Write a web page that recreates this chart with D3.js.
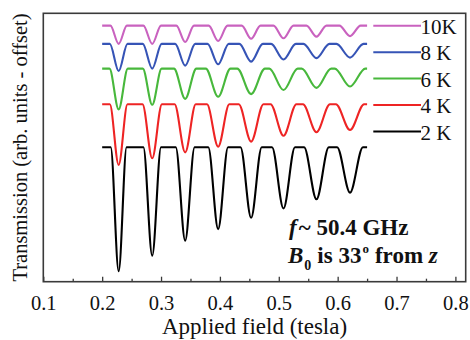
<!DOCTYPE html>
<html>
<head>
<meta charset="utf-8">
<script src="https://cdn.jsdelivr.net/npm/d3@7"></script>
<style>
  html, body { margin: 0; padding: 0; background: #fff; }
  svg { display: block; font-family: "Liberation Serif", "Times New Roman", serif; }
</style>
</head>
<body>
<svg id="chart" width="470" height="340"></svg>
<script>
// Resonance fields (tesla) of the absorption dips, shared by all temperatures
const dipFields = [0.228, 0.285, 0.341, 0.397, 0.453, 0.508, 0.564, 0.621];
// Sweep range of the field
const fieldStart = 0.2, fieldEnd = 0.65;

// Temperature labels, top to bottom
const temps = ["10K", "8 K", "6 K", "4 K", "2 K"];
const colors = ["#c962bf", "#3654b6", "#48b83c", "#ee2424", "#000000"];
// Off-resonance transmission level of each trace (offset units)
const baselines = [9.54, 8.86, 7.94, 6.61, 5.01];

// Transmission at the bottom of each dip
const minima10K = [8.86, 8.86, 8.93, 8.97, 9.05, 9.07, 9.13, 9.15];
const minima8K  = [7.85, 7.94, 8.05, 8.10, 8.20, 8.28, 8.33, 8.35];
const minima6K  = [6.42, 6.59, 6.81, 6.89, 6.99, 7.14, 7.22, 7.27];
const minima4K  = [4.35, 4.60, 4.82, 5.03, 5.22, 5.44, 5.57, 5.65];
const minima2K  = [0.39, 0.97, 1.53, 1.96, 2.38, 2.73, 3.07, 3.32];
const minima = [minima10K, minima8K, minima6K, minima4K, minima2K];

// Half-width of each dip (tesla)
const halfWidth10K = [0.014, 0.015, 0.015, 0.016, 0.016, 0.017, 0.017, 0.018];
const halfWidth8K  = [0.015, 0.016, 0.017, 0.018, 0.020, 0.021, 0.022, 0.023];
const halfWidth6K  = [0.0156, 0.016, 0.019, 0.021, 0.0235, 0.024, 0.025, 0.026];
const halfWidth4K  = [0.015, 0.0165, 0.018, 0.019, 0.021, 0.022, 0.023, 0.024];
const halfWidth2K  = [0.0135, 0.015, 0.016, 0.0168, 0.018, 0.0195, 0.021, 0.022];
const halfWidths = [halfWidth10K, halfWidth8K, halfWidth6K, halfWidth4K, halfWidth2K];

// Axis ticks
const majorTicks = [0.1, 0.2, 0.3, 0.4, 0.5, 0.6, 0.7, 0.8];
const minorTicks = [0.15, 0.25, 0.35, 0.45, 0.55, 0.65, 0.75];

const svg = d3.select("#chart");
const plot = { left: 43.3, right: 465.7, top: 13.3, bottom: 281.7 };

const x = d3.scaleLinear().domain([0.1, 0.8175]).range([plot.left, plot.right]);
const y = d3.scaleLinear().domain([0, 10]).range([plot.bottom, plot.top]);

// Trace vertices: flat baseline, then shoulder / bottom / shoulder for each dip
function traceVertices(i) {
  const base = baselines[i];
  const pts = [[fieldStart, base]];
  dipFields.forEach((c, k) => {
    const hw = halfWidths[i][k];
    pts.push([c - hw, base], [c, minima[i][k]], [c + hw, base]);
  });
  pts.push([fieldEnd, base]);
  return pts;
}

const line = d3.line()
  .x(d => x(d[0]))
  .y(d => y(d[1]))
  .curve(d3.curveMonotoneX);

// Traces
svg.append("g")
  .selectAll("path")
  .data(temps.map((t, i) => i))
  .join("path")
  .attr("d", i => line(traceVertices(i)))
  .attr("fill", "none")
  .attr("stroke", i => colors[i])
  .attr("stroke-width", 2.1)
  .attr("stroke-linejoin", "round");

// Frame
svg.append("rect")
  .attr("x", plot.left).attr("y", plot.top)
  .attr("width", plot.right - plot.left).attr("height", plot.bottom - plot.top)
  .attr("fill", "none").attr("stroke", "#3a3a3a").attr("stroke-width", 1.6);

// Bottom axis: inward ticks
const axisMajor = d3.axisBottom(x).tickValues(majorTicks).tickSize(-5)
  .tickPadding(14).tickFormat(d3.format(".1f"));
const gx = svg.append("g").attr("transform", `translate(0,${plot.bottom})`).call(axisMajor);
gx.select(".domain").remove();
gx.selectAll(".tick line").attr("stroke", "#3a3a3a").attr("stroke-width", 1.3);
gx.selectAll(".tick text")
  .attr("font-family", "Liberation Serif").attr("font-size", 20.5).attr("fill", "#111");

const gm = svg.append("g").attr("transform", `translate(0,${plot.bottom})`)
  .call(d3.axisBottom(x).tickValues(minorTicks).tickSize(-3).tickFormat(""));
gm.select(".domain").remove();
gm.selectAll(".tick line").attr("stroke", "#3a3a3a").attr("stroke-width", 1.3);

// Axis titles
svg.append("text")
  .attr("x", (plot.left + plot.right) / 2).attr("y", 334)
  .attr("text-anchor", "middle").attr("font-size", 23).attr("fill", "#111")
  .text("Applied field (tesla)");

svg.append("text")
  .attr("transform", `translate(27,${(plot.top + plot.bottom) / 2}) rotate(-90)`)
  .attr("text-anchor", "middle").attr("font-size", 20.5).attr("fill", "#111")
  .text("Transmission (arb. units - offset)");

// Legend
const legendY = [25.7, 52.2, 78.6, 105, 131.6];
const legend = svg.append("g");
temps.forEach((t, i) => {
  legend.append("line")
    .attr("x1", 373.3).attr("x2", 421).attr("y1", legendY[i]).attr("y2", legendY[i])
    .attr("stroke", colors[i]).attr("stroke-width", 2);
  legend.append("text")
    .attr("x", 420.5).attr("y", legendY[i] + 8)
    .attr("font-size", 21).attr("fill", "#111")
    .text(t);
});

// Measurement conditions
const note = svg.append("g").attr("font-weight", "bold").attr("font-size", 23).attr("fill", "#111");
const l1 = note.append("text").attr("x", 289).attr("y", 235);
l1.append("tspan").attr("font-style", "italic").text("f");
l1.append("tspan").attr("dx", 2).text("~ 50.4 GHz");

const l2 = note.append("text").attr("x", 288).attr("y", 263);
l2.append("tspan").attr("font-style", "italic").text("B");
l2.append("tspan").attr("font-size", 14).attr("dy", 7).attr("dx", 1).text("0");
l2.append("tspan").attr("dy", -7).attr("dx", 6).text("is 33");
l2.append("tspan").attr("font-size", 13).attr("dy", -10).attr("dx", 1).text("o");
l2.append("tspan").attr("dy", 10).attr("dx", 6).text("from ");
l2.append("tspan").attr("font-style", "italic").text("z");
</script>
</body>
</html>
